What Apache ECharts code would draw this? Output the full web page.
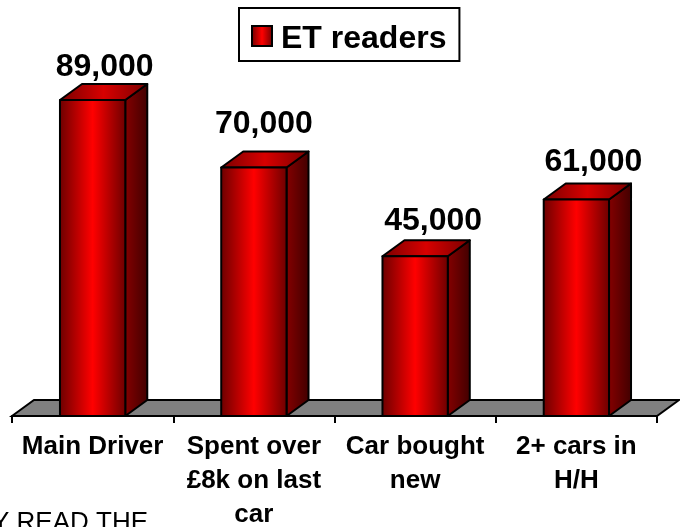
<!DOCTYPE html>
<html>
<head>
<meta charset="utf-8">
<style>
  html, body { margin: 0; padding: 0; background: #fff; }
  #chart { width: 680px; height: 527px; overflow: hidden; }
</style>
</head>
<body>
<div id="chart"></div>
<script src="https://cdn.jsdelivr.net/npm/echarts@6/dist/echarts.min.js"></script>
<script>
const categories = ['Main Driver', 'Spent over\n£8k on last\ncar', 'Car bought\nnew', '2+ cars in\nH/H'];
const readers = [89000, 70000, 45000, 61000];

const FONT = '"Liberation Sans", Arial, sans-serif';
const DEPTH_X = 22;
const DEPTH_Y = 16;
// the labels sit a bit unevenly in the original
const labelNudge = [[12, -17], [10, -27], [18, -19], [17, -21]];

const hGrad = (stops) => new echarts.graphic.LinearGradient(0, 0, 1, 0,
  stops.map((c, i) => ({ offset: i / (stops.length - 1), color: c })));

const frontFill = hGrad(['#6a0000', '#ff0000', '#6a0000']);
const sideFill = hGrad(['#860000', '#400000']);
const topFill = hGrad(['#780000', '#d80000', '#780000']);

const chart = echarts.init(document.getElementById('chart'), null, { renderer: 'canvas' });

function renderFloor(params, api) {
  const c = params.coordSys;
  const y = c.y + c.height;
  return {
    type: 'polygon',
    shape: { points: [
      [c.x, y],
      [c.x + DEPTH_X, y - DEPTH_Y],
      [c.x + c.width + DEPTH_X, y - DEPTH_Y],
      [c.x + c.width, y]
    ] },
    style: { fill: '#808080', stroke: '#000', lineWidth: 2 }
  };
}

function renderBar(params, api) {
  const i = api.value(0);
  const val = api.value(1);
  const top = api.coord([i, val]);
  const base = api.coord([i, 0]);
  const w = api.size([1, 0])[0] * 0.405;
  const l = top[0] - w / 2;
  const r = top[0] + w / 2;
  const t = top[1];
  const b = base[1];
  const line = { stroke: '#000', lineWidth: 2, lineJoin: 'round' };
  return {
    type: 'group',
    children: [
      {
        type: 'polygon',
        shape: { points: [[r, t], [r + DEPTH_X, t - DEPTH_Y], [r + DEPTH_X, b - DEPTH_Y], [r, b]] },
        style: Object.assign({ fill: sideFill }, line)
      },
      {
        type: 'polygon',
        shape: { points: [[l, t], [l + DEPTH_X, t - DEPTH_Y], [r + DEPTH_X, t - DEPTH_Y], [r, t]] },
        style: Object.assign({ fill: topFill }, line)
      },
      {
        type: 'rect',
        shape: { x: l, y: t, width: r - l, height: b - t },
        style: Object.assign({ fill: frontFill }, line)
      },
      {
        type: 'text',
        x: top[0] + labelNudge[i][0],
        y: t - DEPTH_Y + labelNudge[i][1],
        style: {
          text: val.toLocaleString('en-GB'),
          font: 'bold 32px ' + FONT,
          fill: '#000',
          align: 'center',
          verticalAlign: 'middle'
        }
      }
    ]
  };
}

chart.setOption({
  animation: false,
  backgroundColor: '#fff',
  grid: { left: 12, right: 23, top: 61, bottom: 111, outerBoundsMode: 'none' },
  legend: {
    data: ['ET readers'],
    left: 239,
    top: 8,
    padding: [15, 13, 6, 12],
    backgroundColor: '#fff',
    borderColor: '#000',
    borderWidth: 2,
    itemWidth: 20,
    itemHeight: 20,
    itemGap: 0,
    icon: 'rect',
    itemStyle: { color: hGrad(['#6a0000', '#ff0000', '#6a0000']), borderColor: '#000', borderWidth: 2 },
    formatter: '{a|{name}}',
    textStyle: {
      rich: {
        a: { fontFamily: FONT, fontWeight: 'bold', fontSize: 32, color: '#000', padding: [6, 0, 0, 4] }
      }
    }
  },
  xAxis: {
    type: 'category',
    data: categories,
    axisLine: { show: true, lineStyle: { color: '#000', width: 2 } },
    axisTick: { show: true, length: 7, lineStyle: { color: '#000', width: 2 } },
    axisLabel: {
      interval: 0,
      margin: 14,
      fontFamily: FONT,
      fontWeight: 'bold',
      fontSize: 26,
      lineHeight: 34,
      color: '#000'
    }
  },
  yAxis: {
    type: 'value',
    min: 0,
    max: 100000,
    show: false,
    splitLine: { show: false }
  },
  series: [
    {
      name: 'floor',
      type: 'custom',
      silent: true,
      z: 1,
      renderItem: renderFloor,
      data: [[0, 0]]
    },
    {
      name: 'ET readers',
      type: 'custom',
      z: 3,
      renderItem: renderBar,
      encode: { x: 0, y: 1 },
      data: readers.map((v, i) => [i, v])
    }
  ],
  graphic: [
    {
      type: 'text',
      right: 532,
      top: 510,
      style: { text: 'Y READ THE', font: '26px ' + FONT, fill: '#000' }
    }
  ]
});
</script>
</body>
</html>
